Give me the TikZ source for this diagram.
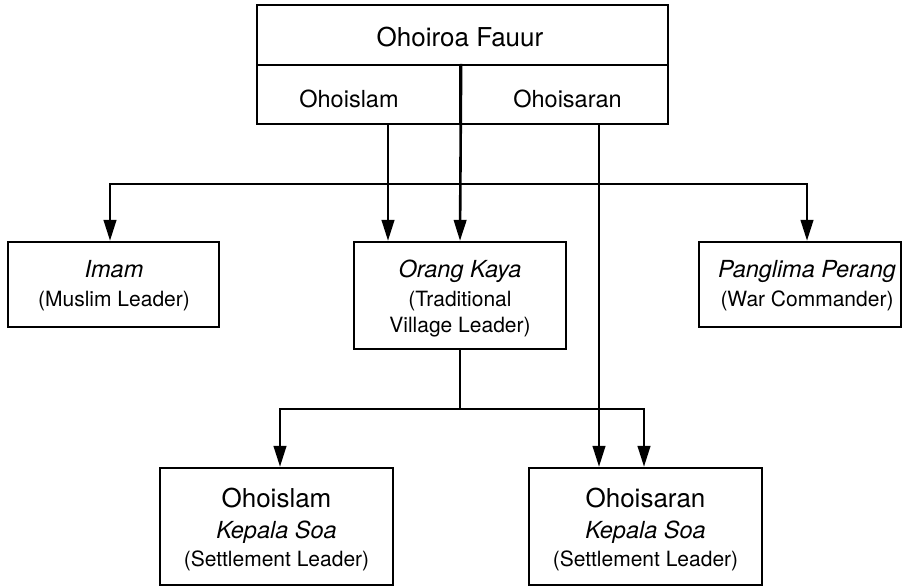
\documentclass[tikz,border=0pt]{standalone}
\usepackage{fontspec}
\setmainfont{TeX Gyre Heros}
\usetikzlibrary{arrows.meta}
\newcommand{\fsz}[1]{\fontsize{#1}{#1}\selectfont}
\begin{document}
\begin{tikzpicture}[x=1pt,y=-1pt,
  box/.style={draw, line width=2.3pt, inner sep=0pt},
  conn/.style={line width=2.6pt},
  arr/.style={conn, -{Triangle[width=12.5pt,length=21pt]}},
  lbl/.style={anchor=base, inner sep=0pt},
  big/.style={lbl, font=\fsz{26}},
  main/.style={lbl, font=\fsz{23.5}},
  imain/.style={lbl, font=\fsz{23.5}\itshape},
  par/.style={lbl, font=\fsz{21}},
]
\useasboundingbox (0,0) rectangle (903,588);
\fill[white] (0,0) rectangle (903,588);

% boxes
\node[box, minimum width=411pt, minimum height=60pt] (fauur) at (462.5,35) {};
\node[box, minimum width=203pt, minimum height=59pt] (islam) at (358.5,94.5) {};
\node[box, minimum width=208pt, minimum height=59pt] (saran) at (564,94.5) {};
\node[box, minimum width=211pt, minimum height=85pt] (imam) at (113.5,284.5) {};
\node[box, minimum width=212pt, minimum height=107pt] (orang) at (460,295.5) {};
\node[box, minimum width=202pt, minimum height=85pt] (pang) at (800,284.5) {};
\node[box, minimum width=233pt, minimum height=117pt] (soaI) at (276.5,526.5) {};
\node[box, minimum width=233pt, minimum height=117pt] (soaS) at (645.5,526.5) {};

% labels
\node[big] (tFauur) at (460,47) {Ohoiroa Fauur};
\node[main] (tIslam) at (349,108) {Ohoislam};
\node[main] (tSaran) at (567.5,108) {Ohoisaran};

\node[imain] (tImam) at (114,278) {Imam};
\node[par] (tImam2) at (114,307) {(Muslim Leader)};

\node[imain] (tOrang) at (460,278) {Orang Kaya};
\node[par] (tOrang2) at (460,307) {(Traditional};
\node[par] (tOrang3) at (460,333) {Village Leader)};

\node[imain] (tPang) at (807,278) {Panglima Perang};
\node[par] (tPang2) at (807,307) {(War Commander)};

\node[big] (tSoaI1) at (276.5,507) {Ohoislam};
\node[imain] (tSoaI2) at (276.5,538) {Kepala Soa};
\node[par] (tSoaI3) at (276.5,566) {(Settlement Leader)};

\node[big] (tSoaS1) at (645.5,507) {Ohoisaran};
\node[imain] (tSoaS2) at (645.5,538) {Kepala Soa};
\node[par] (tSoaS3) at (645.5,566) {(Settlement Leader)};

% connectors
\coordinate (bar) at (460,184);
\coordinate (bar2) at (460,409);
\draw[arr] (islam.north east) -- (orang.north);
\draw[arr] ([xshift=29.5pt]islam.south) -- ([xshift=29.5pt]islam.south |- orang.north);
\draw[arr] ([xshift=35pt]saran.south) -- ([xshift=35pt]saran.south |- soaS.north);
\draw[arr] (bar) -| ([xshift=-3.5pt]imam.north);
\draw[arr] (bar) -| ([xshift=7pt]pang.north);
\draw[conn] (orang.south) -- (bar2);
\draw[arr] (bar2) -| ([xshift=3.5pt]soaI.north);
\draw[arr] (bar2) -| ([xshift=-1.5pt]soaS.north);
\end{tikzpicture}
\end{document}
